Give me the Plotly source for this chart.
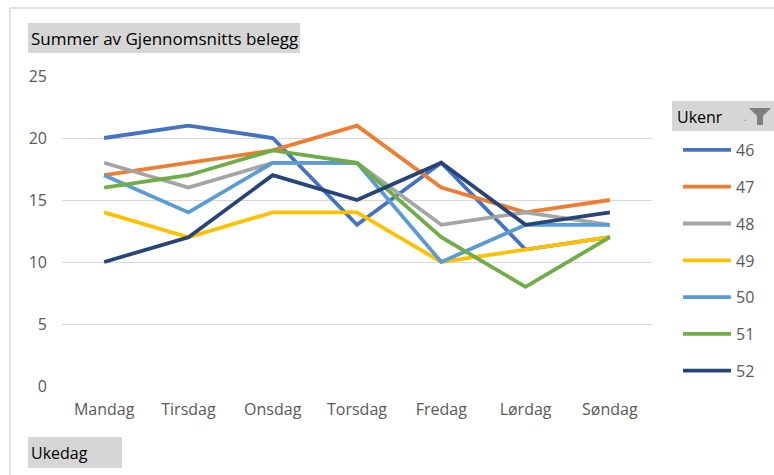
import plotly.graph_objects as go

days = ["Mandag", "Tirsdag", "Onsdag", "Torsdag", "Fredag", "Lørdag", "Søndag"]
weeks = ["46", "47", "48", "49", "50", "51", "52"]
w46 = [20, 21, 20, 13, 18, 11, 12]
w47 = [17, 18, 19, 21, 16, 14, 15]
w48 = [18, 16, 18, 18, 13, 14, 13]
w49 = [14, 12, 14, 14, 10, 11, 12]
w50 = [17, 14, 18, 18, 10, 13, 13]
w51 = [16, 17, 19, 18, 12, 8, 12]
w52 = [10, 12, 17, 15, 18, 13, 14]
series = [w46, w47, w48, w49, w50, w51, w52]
colors = ["#4472C4", "#ED7D31", "#A5A5A5", "#FFC000", "#5B9BD5", "#70AD47", "#264478"]

W, H = 774, 475
L, R, T, B = 62, 652, 76, 386

def px(x):
    return (x - L) / (R - L)

def py(y):
    return (B - y) / (B - T)

FONT = "Open Sans"

fig = go.Figure()
for i, (name, vals) in enumerate(zip(weeks, series)):
    fig.add_trace(go.Scatter(x=days, y=vals, mode="lines", name=name,
                             legendgroup=name,
                             line=dict(color=colors[i], width=3.8)))

shapes = [
    dict(type="line", xref="paper", yref="paper", x0=px(10), x1=px(774), y0=py(8), y1=py(8),
         line=dict(color="#D9D9D9", width=1.5)),
    dict(type="line", xref="paper", yref="paper", x0=px(10), x1=px(10), y0=py(8), y1=py(475),
         line=dict(color="#D9D9D9", width=1.5)),
    dict(type="rect", xref="paper", yref="paper", x0=px(28), x1=px(300), y0=py(23), y1=py(53),
         fillcolor="#D6D6D6", line=dict(width=0), layer="below"),
    dict(type="rect", xref="paper", yref="paper", x0=px(28), x1=px(122), y0=py(437), y1=py(468),
         fillcolor="#D6D6D6", line=dict(width=0), layer="below"),
    dict(type="rect", xref="paper", yref="paper", x0=px(672), x1=px(774), y0=py(101), y1=py(131),
         fillcolor="#D6D6D6", line=dict(width=0), layer="below"),
    dict(type="path", xref="paper", yref="paper",
         path=f"M {px(749)} {py(108)} L {px(771)} {py(108)} L {px(763)} {py(116)} L {px(763)} {py(125)} "
              f"L {px(757)} {py(125)} L {px(757)} {py(116)} Z",
         fillcolor="#7F7F7F", line=dict(width=0)),
]

annotations = [
    dict(text="Summer av Gjennomsnitts belegg", xref="paper", yref="paper", x=px(29), y=py(38),
         xanchor="left", yanchor="middle", showarrow=False, font=dict(family=FONT, size=17, color="#000000")),
    dict(text="Ukedag", xref="paper", yref="paper", x=px(29), y=py(453),
         xanchor="left", yanchor="middle", showarrow=False, font=dict(family=FONT, size=16, color="#000000")),
    dict(text="Ukenr", xref="paper", yref="paper", x=px(675), y=py(117),
         xanchor="left", yanchor="middle", showarrow=False, font=dict(family=FONT, size=16, color="#000000")),
    dict(text=".", xref="paper", yref="paper", x=px(745), y=py(117),
         xanchor="center", yanchor="middle", showarrow=False, font=dict(family=FONT, size=10, color="#7F7F7F")),
]

fig.update_layout(
    width=W, height=H,
    margin=dict(l=L, r=W - R, t=T, b=H - B, autoexpand=False),
    paper_bgcolor="white", plot_bgcolor="white",
    font=dict(family=FONT, size=16, color="#595959"),
    xaxis=dict(type="category", range=[-0.5, 6.5], showgrid=False, showline=False,
               zeroline=False, ticks="", ticklabelstandoff=12,
               tickfont=dict(size=16, color="#595959")),
    yaxis=dict(range=[0, 25], dtick=5, showgrid=True, gridcolor="#D9D9D9", gridwidth=1.3,
               zeroline=False, showline=False, ticks="", ticklabelstandoff=14,
               tickfont=dict(size=16, color="#595959")),
    showlegend=True,
    legend=dict(x=px(678), y=py(133), xanchor="left", yanchor="top",
                font=dict(family=FONT, size=16, color="#595959"),
                itemwidth=48, tracegroupgap=13, bgcolor="rgba(0,0,0,0)"),
    shapes=shapes,
    annotations=annotations,
)

fig.write_html("out.html")
